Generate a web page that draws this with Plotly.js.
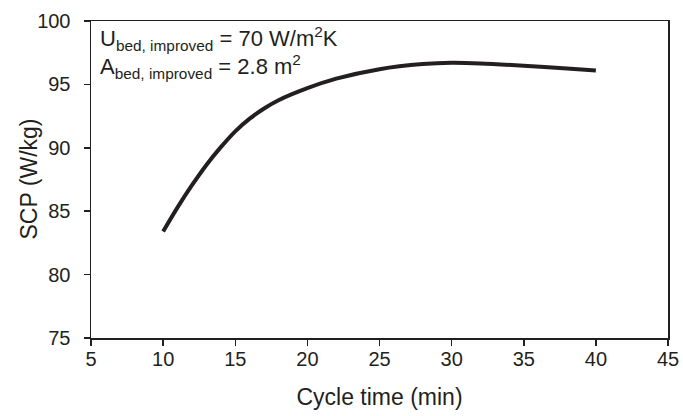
<!DOCTYPE html>
<html>
<head>
<meta charset="utf-8">
<script src="https://cdn.plot.ly/plotly-3.0.1.min.js"></script>
<style>html,body{margin:0;padding:0;background:#fff;}#chart{width:683px;height:416px;}</style>
</head>
<body>
<div id="chart"></div>
<script>
const cycleTime = [10, 11, 12, 13, 14, 15, 16, 17, 18, 20, 22, 25, 28, 30, 32, 35, 38, 40];
const scp = [83.4, 85.3, 87.05, 88.65, 90.05, 91.3, 92.3, 93.1, 93.75, 94.7, 95.45, 96.2, 96.6, 96.7, 96.65, 96.47, 96.25, 96.1];
const xTicks = [5, 10, 15, 20, 25, 30, 35, 40, 45];
const yTicks = [75, 80, 85, 90, 95, 100];
const yTitle = 'SCP (W/kg)';
const xTitle = 'Cycle time (min)';
const noteLines = [
  'U<sub>bed, improved</sub> = 70 W/m<sup>2</sup>K',
  'A<sub>bed, improved</sub> = 2.8 m<sup>2</sup>'
];

const ink = '#231f20';
const font = 'Liberation Sans, Arial, sans-serif';

const data = [{
  x: cycleTime, y: scp, type: 'scatter', mode: 'lines',
  line: {color: ink, width: 4, shape: 'spline', smoothing: 0.8},
  hoverinfo: 'none'
}];

const axisCommon = {
  showgrid: false, zeroline: false, showline: true, linecolor: ink, linewidth: 1.5,
  mirror: true, ticks: 'outside', ticklen: 6, tickwidth: 1.5, tickcolor: ink,
  tickfont: {family: font, size: 20, color: ink}
};

const notes = noteLines.map((t, i) => ({
  text: t, xref: 'paper', yref: 'paper', x: 0.012, y: 1 - 0.0 - i*0.088,
  xanchor: 'left', yanchor: 'top', showarrow: false,
  font: {family: font, size: 22, color: ink}
}));
notes.push({
  text: yTitle, xref: 'paper', yref: 'paper', x: 0, y: 0.5, xshift: -63,
  xanchor: 'center', yanchor: 'middle', textangle: -90, showarrow: false,
  font: {family: font, size: 23, color: ink}
});

const layout = {
  width: 683, height: 416,
  margin: {l: 91, r: 15, t: 21, b: 78},
  paper_bgcolor: '#fff', plot_bgcolor: '#fff',
  showlegend: false,
  font: {family: font, color: ink},
  xaxis: Object.assign({}, axisCommon, {
    range: [5, 45], tickvals: xTicks, ticktext: xTicks.map(String),
    ticklabelstandoff: -4,
    title: {text: xTitle, font: {family: font, size: 23, color: ink}, standoff: 20}
  }),
  yaxis: Object.assign({}, axisCommon, {
    range: [75, 100], tickvals: yTicks, ticktext: yTicks.map(String),
    ticklabelstandoff: 9
  }),
  annotations: notes
};

Plotly.newPlot('chart', data, layout, {staticPlot: true, displayModeBar: false});
</script>
</body>
</html>
